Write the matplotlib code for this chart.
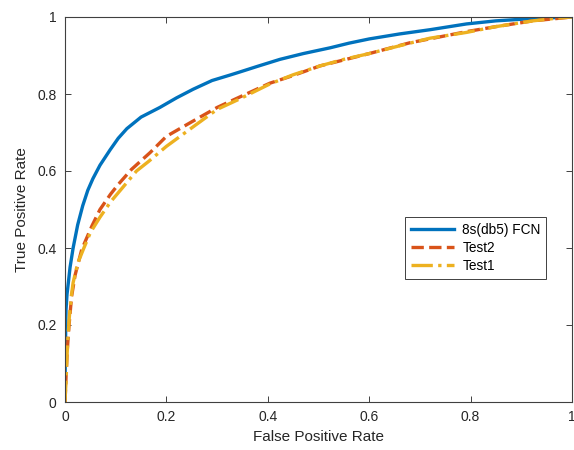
import matplotlib
matplotlib.use("Agg")
import matplotlib.pyplot as plt

plt.rcParams['font.family'] = ['Liberation Sans', 'DejaVu Sans']

# FPR / TPR readings
fcn_fpr = [0, 0.0005, 0.002, 0.004, 0.0066, 0.01, 0.016, 0.025, 0.035, 0.045, 0.055, 0.069, 0.089,
           0.105, 0.122, 0.15, 0.187, 0.22, 0.253, 0.29, 0.325, 0.342, 0.38, 0.424, 0.47,
           0.523, 0.56, 0.60, 0.66, 0.72, 0.792, 0.85, 0.923, 0.96, 1.0]
fcn_tpr = [0, 0.12, 0.24, 0.28, 0.31, 0.35, 0.40, 0.46, 0.51, 0.55, 0.58, 0.615, 0.655,
           0.685, 0.71, 0.74, 0.765, 0.79, 0.8125, 0.835, 0.849, 0.856, 0.872, 0.89, 0.905,
           0.92, 0.932, 0.943, 0.956, 0.967, 0.982, 0.99, 0.996, 0.998, 1.0]

test2_fpr = [0, 0.001, 0.0025, 0.0045, 0.008, 0.013, 0.02, 0.033, 0.053, 0.069, 0.09, 0.105,
             0.131, 0.168, 0.2, 0.253, 0.3, 0.341, 0.404, 0.45, 0.503, 0.6, 0.68, 0.792,
             0.85, 0.923, 1.0]
test2_tpr = [0, 0.03, 0.08, 0.135, 0.2, 0.274, 0.33, 0.396, 0.457, 0.5, 0.54, 0.565,
             0.604, 0.648, 0.69, 0.73, 0.765, 0.79, 0.828, 0.848, 0.873, 0.905, 0.933, 0.962,
             0.975, 0.99, 1.0]

test1_fpr = [0, 0.001, 0.002, 0.004, 0.006, 0.0085, 0.012, 0.016, 0.025, 0.036, 0.05, 0.069,
             0.09, 0.122, 0.141, 0.165, 0.2, 0.253, 0.3, 0.341, 0.404, 0.45, 0.503, 0.55,
             0.6, 0.68, 0.72, 0.792, 0.85, 0.923, 0.97, 1.0]
test1_tpr = [0, 0.03, 0.05, 0.12, 0.17, 0.22, 0.27, 0.31, 0.36, 0.396, 0.44, 0.48,
             0.52, 0.57, 0.6, 0.625, 0.664, 0.715, 0.76, 0.785, 0.826, 0.85, 0.873, 0.89,
             0.905, 0.932, 0.945, 0.96, 0.975, 0.99, 0.997, 1.0]

tick_vals = [0, 0.2, 0.4, 0.6, 0.8, 1]
tick_labels = ["0", "0.2", "0.4", "0.6", "0.8", "1"]

fig = plt.figure(figsize=(5.74, 4.5), dpi=100)
ax = fig.add_axes([65/574, 48/450, 507/574, 385/450])

ax.plot(fcn_fpr, fcn_tpr, color='#0072BD', lw=2.4, ls='-', label='8s(db5) FCN')
ax.plot(test2_fpr, test2_tpr, color='#D95319', lw=2.4, ls='--', label='Test2')
ax.plot(test1_fpr, test1_tpr, color='#EDB120', lw=2.4, ls='-.', label='Test1')

ax.set_xlim(0, 1)
ax.set_ylim(0, 1)
ax.set_xticks(tick_vals)
ax.set_xticklabels(tick_labels)
ax.set_yticks(tick_vals)
ax.set_yticklabels(tick_labels)
ax.tick_params(direction='in', top=True, right=True, length=4, width=0.7,
               color='#404040', labelcolor='#262626', labelsize=10, pad=6)
for s in ax.spines.values():
    s.set_color('#404040')
    s.set_linewidth(0.8)

ax.set_xlabel('False Positive Rate', fontsize=11, color='#262626', labelpad=4)
ax.set_ylabel('True Positive Rate', fontsize=11, color='#262626', labelpad=6)

leg = ax.legend(loc='center', bbox_to_anchor=(0.81, 0.40), fontsize=9.8,
                fancybox=False, framealpha=1, edgecolor='#404040',
                handlelength=3.2, borderpad=0.4, labelspacing=0.3, handletextpad=0.6)
leg.get_frame().set_linewidth(0.7)

fig.savefig('out.png', dpi=100)
